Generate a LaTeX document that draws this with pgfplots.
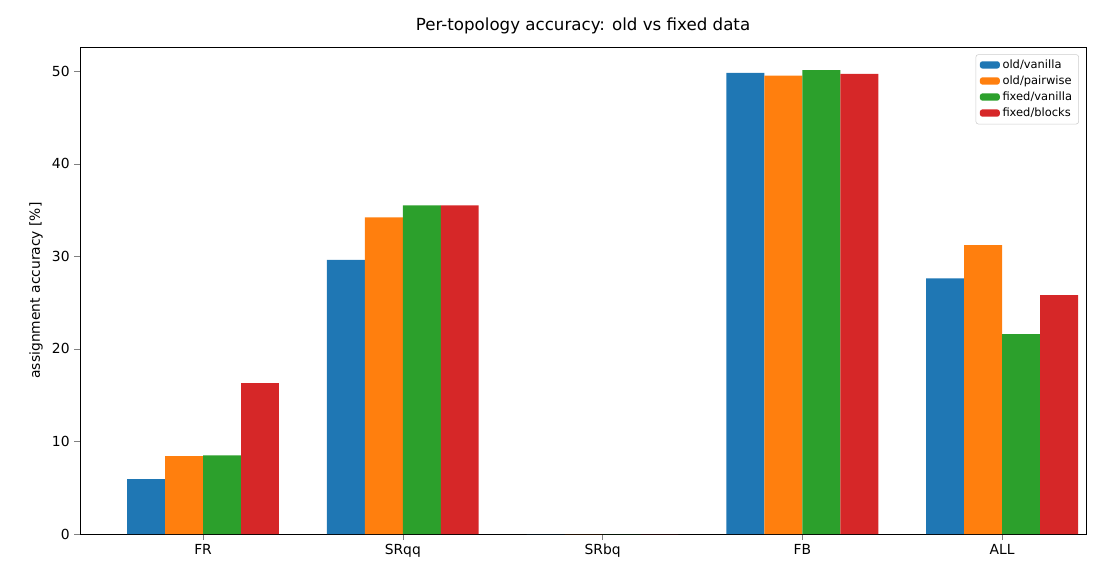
\documentclass[border=0pt]{standalone}
\usepackage{pgfplots}
\pgfplotsset{compat=1.18}
\usepackage{fontspec}
\setmainfont{DejaVu Sans}
\definecolor{c1}{HTML}{1F77B4}
\definecolor{c2}{HTML}{FF7F0E}
\definecolor{c3}{HTML}{2CA02C}
\definecolor{c4}{HTML}{D62728}
\begin{document}
\begin{tikzpicture}
\begin{axis}[
  name=ax,
  scale only axis, width=754.5pt, height=365.25pt,
  xmin=-0.616, xmax=4.42, ymin=0, ymax=52.6,
  xtick={0,1,2,3,4}, xticklabels={FR,SRqq,SRbq,FB,ALL},
  ytick={0,10,20,30,40,50},
  /pgf/number format/assume math mode=true,
  tick label style={font=\fontsize{10.4}{12}\selectfont},
  ylabel={assignment accuracy [\%]},
  ylabel style={font=\fontsize{10.4}{12}\selectfont},
  title={Per-topology accuracy: old vs fixed data},
  title style={font=\fontsize{12.5}{14}\selectfont},
  tick align=outside, tick pos=left,
  ybar=0pt, bar width=0.19,
  legend style={at={(0.993,0.985)}, anchor=north east, font=\fontsize{8.6}{10}\selectfont, draw=black!20, rounded corners=2pt},
  legend cell align=left,
  legend image code/.code={\fill[#1, draw=none] (0pt,-2.5pt) rectangle (15pt,3pt);},
]
\addplot[fill=c1, draw=none] coordinates {(0,5.94) (1,29.6) (2,0) (3,49.8) (4,27.6)};
\addplot[fill=c2, draw=none] coordinates {(0,8.4) (1,34.2) (2,0) (3,49.5) (4,31.2)};
\addplot[fill=c3, draw=none] coordinates {(0,8.5) (1,35.5) (2,0) (3,50.1) (4,21.6)};
\addplot[fill=c4, draw=none] coordinates {(0,16.3) (1,35.5) (2,0) (3,49.7) (4,25.8)};
\legend{old/vanilla,old/pairwise,fixed/vanilla,fixed/blocks}
\end{axis}
\useasboundingbox ([xshift=-60pt,yshift=-38.25pt]ax.south west) rectangle ([xshift=14.25pt,yshift=35.25pt]ax.north east);
\end{tikzpicture}
\end{document}
